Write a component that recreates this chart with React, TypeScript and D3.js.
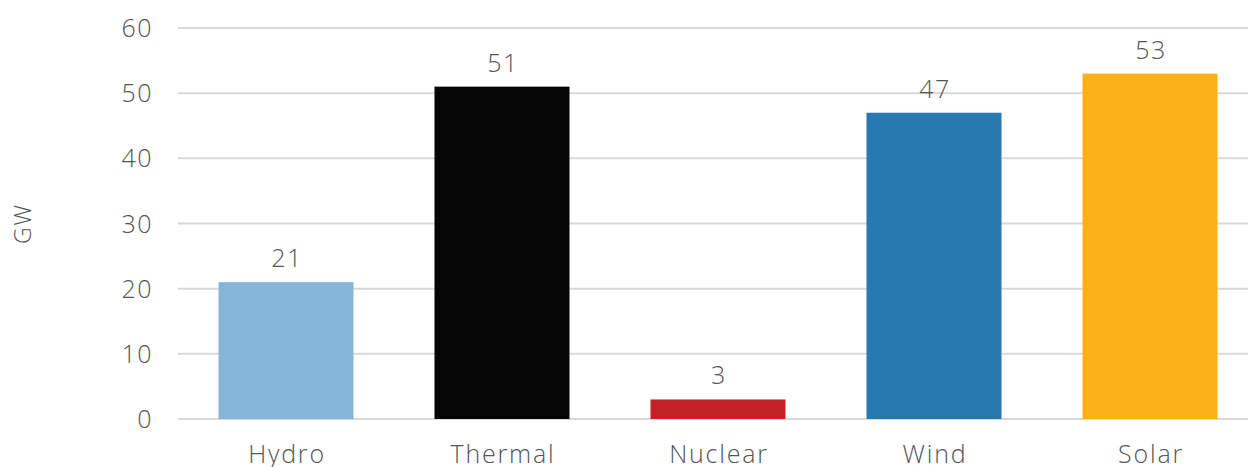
import React from "react";
import * as d3 from "d3";

const categories = ["Hydro", "Thermal", "Nuclear", "Wind", "Solar"];
const values = [21, 51, 3, 47, 53];
const colors = ["#85b5d7", "#050505", "#c42127", "#2779b0", "#fbb018"];
const yTicks = [0, 10, 20, 30, 40, 50, 60];
const yLabel = "GW";

const W = 1248;
const H = 467;
const FONT = "'Open Sans', sans-serif";
const TXT = "#555555";

export default function App() {
  const x = d3
    .scaleBand<string>()
    .domain(categories)
    .range([178, 1258])
    .paddingInner(0.375)
    .paddingOuter(0.1875);
  const y = d3.scaleLinear().domain([0, 60]).range([419, 28]);

  return (
    <svg
      width={W}
      height={H}
      style={{ position: "absolute", left: 0, top: 0, display: "block" }}
      fontFamily={FONT}
    >
      <rect width={W} height={H} fill="#ffffff" />
      {yTicks.map((t) => (
        <g key={t}>
          <line x1={178} x2={W} y1={y(t)} y2={y(t)} stroke="#d9d9d9" strokeWidth={2} />
          <text
            x={153}
            y={y(t)}
            dy="0.36em"
            textAnchor="end"
            fontSize={25}
            fontWeight={350}
            fill={TXT}
            letterSpacing={1.5}
          >
            {t}
          </text>
        </g>
      ))}
      {categories.map((c, i) => (
        <g key={c}>
          <rect
            x={x(c)!}
            y={y(values[i])}
            width={x.bandwidth()}
            height={y(0) - y(values[i])}
            fill={colors[i]}
          />
          <text
            x={x(c)! + x.bandwidth() / 2 + 1}
            y={y(values[i]) - 15}
            textAnchor="middle"
            fontSize={25}
            fontWeight={350}
            fill={TXT}
            letterSpacing={1.5}
          >
            {values[i]}
          </text>
          <text
            x={x(c)! + x.bandwidth() / 2 + 1}
            y={463}
            textAnchor="middle"
            fontSize={25}
            fontWeight={350}
            fill={TXT}
            letterSpacing={1.8}
          >
            {c}
          </text>
        </g>
      ))}
      <text
        transform={`translate(31, ${(y(0) + y(60)) / 2}) rotate(-90)`}
        textAnchor="middle"
        fontSize={23}
        fontWeight={350}
        fill={TXT}
        letterSpacing={2}
      >
        {yLabel}
      </text>
    </svg>
  );
}
